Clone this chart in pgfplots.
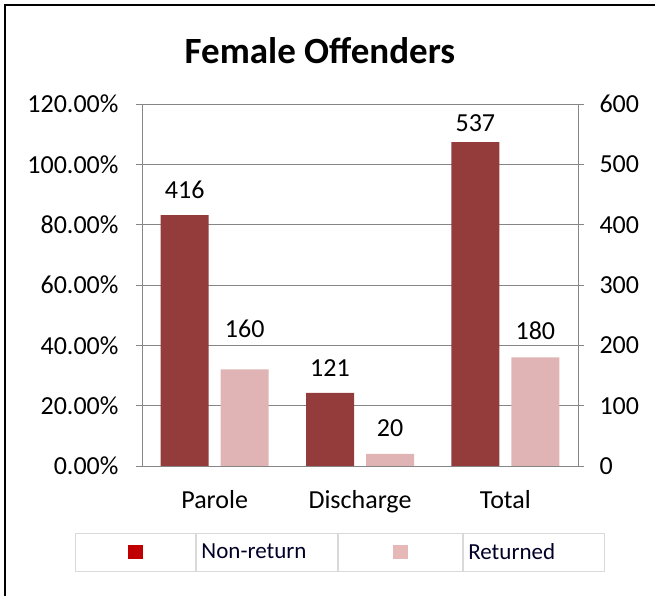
\documentclass[border=0pt]{standalone}
\usepackage{fontspec}
\setmainfont{Carlito}
\usepackage{pgfplots}
\usepackage{pgfplotstable}
\pgfplotsset{compat=1.18}
\definecolor{nonret}{HTML}{943C3C}
\definecolor{ret}{HTML}{E0B4B4}
\definecolor{legred}{HTML}{C00000}
\definecolor{legpink}{HTML}{E6B9B8}
\definecolor{gridgray}{HTML}{868686}
\definecolor{cellgray}{HTML}{D9D9D9}
\newcommand{\tickfont}{\fontsize{26}{31}\selectfont}

% x: 0 Parole, 1 Discharge, 2 Total; dy = label lift above bar
\pgfplotstableread{
x  y    dy
0  416  13
1  121  13
2  537  7
}\nonreturn
\pgfplotstableread{
x  y    dy
0  160  28
1  20   14
2  180  14
}\returned

\begin{document}
\begin{tikzpicture}[x=1pt,y=1pt]
\useasboundingbox (0,0) rectangle (655,596);
\draw[line width=2.2pt] (5,-2) -- (5,591) -- (657,591);
\node[font=\fontsize{37}{44}\selectfont\bfseries, anchor=base] at (320,532) {Female Offenders};

% percentage axis (left)
\begin{axis}[
  at={(142pt,130pt)}, anchor=south west,
  scale only axis, width=436pt, height=362pt,
  xmin=-0.5, xmax=2.5, ymin=0, ymax=1.2,
  xtick=\empty,
  ytick={0,0.2,0.4,0.6,0.8,1.0,1.2},
  yticklabels={0.00\%,20.00\%,40.00\%,60.00\%,80.00\%,100.00\%,120.00\%},
  ytick pos=left, tick align=outside, major tick length=6pt,
  ymajorgrids, grid style={gridgray, line width=0.9pt},
  axis line style={gridgray, line width=0.9pt},
  tick style={gridgray, line width=0.9pt},
  yticklabel style={font=\tickfont, xshift=-14pt},
]
\end{axis}

% count axis (right) with bars
\begin{axis}[
  at={(142pt,130pt)}, anchor=south west,
  scale only axis, width=436pt, height=362pt,
  xmin=-0.5, xmax=2.5, ymin=0, ymax=600,
  xtick={0,1,2}, xticklabels={Parole,Discharge,Total},
  xtick style={draw=none},
  ytick={0,100,200,300,400,500,600},
  ytick pos=right, tick align=outside, major tick length=6pt,
  axis line style={gridgray, line width=0.9pt},
  tick style={gridgray, line width=0.9pt},
  /pgf/number format/assume math mode=true,
  yticklabel style={font=\tickfont, xshift=12pt},
  xticklabel style={font=\tickfont, yshift=-15pt},
  nodes near coords style={font=\tickfont, color=black},
  legend columns=2,
  legend style={
    at={(0.454,-0.2376)}, anchor=center,
    draw=none, fill=none, inner sep=0pt, column sep=0pt, row sep=0pt,
    font=\fontsize{23}{28}\selectfont,
    nodes={draw=cellgray, line width=0.9pt, minimum height=38pt,
           text width=131pt, inner xsep=5pt, inner ysep=0pt, anchor=west,
           text=black!85!blue},
  },
  legend cell align=left,
]
\addplot[ybar, bar width=48pt, bar shift=-30pt, fill=nonret, draw=none,
  nodes near coords,
  visualization depends on={\thisrow{dy} \as \dy},
  every node near coord/.append style={xshift=-30pt, yshift=\dy pt},
  legend image code/.code={
    \draw[cellgray, line width=0.9pt, fill=white] (-60pt,-19pt) rectangle (60pt,19pt);
    \fill[legred] (-7.5pt,-7pt) rectangle (7.5pt,7pt);}]
  table[x=x, y=y] {\nonreturn};
\addlegendentry{Non-return}
\addplot[ybar, bar width=48pt, bar shift=30pt, fill=ret, draw=none,
  nodes near coords,
  visualization depends on={\thisrow{dy} \as \dy},
  every node near coord/.append style={xshift=30pt, yshift=\dy pt},
  legend image code/.code={
    \draw[cellgray, line width=0.9pt, fill=white] (-62pt,-19pt) rectangle (62pt,19pt);
    \fill[legpink] (-7.5pt,-7pt) rectangle (7.5pt,7pt);}]
  table[x=x, y=y] {\returned};
\addlegendentry{Returned}
\end{axis}
\end{tikzpicture}
\end{document}
